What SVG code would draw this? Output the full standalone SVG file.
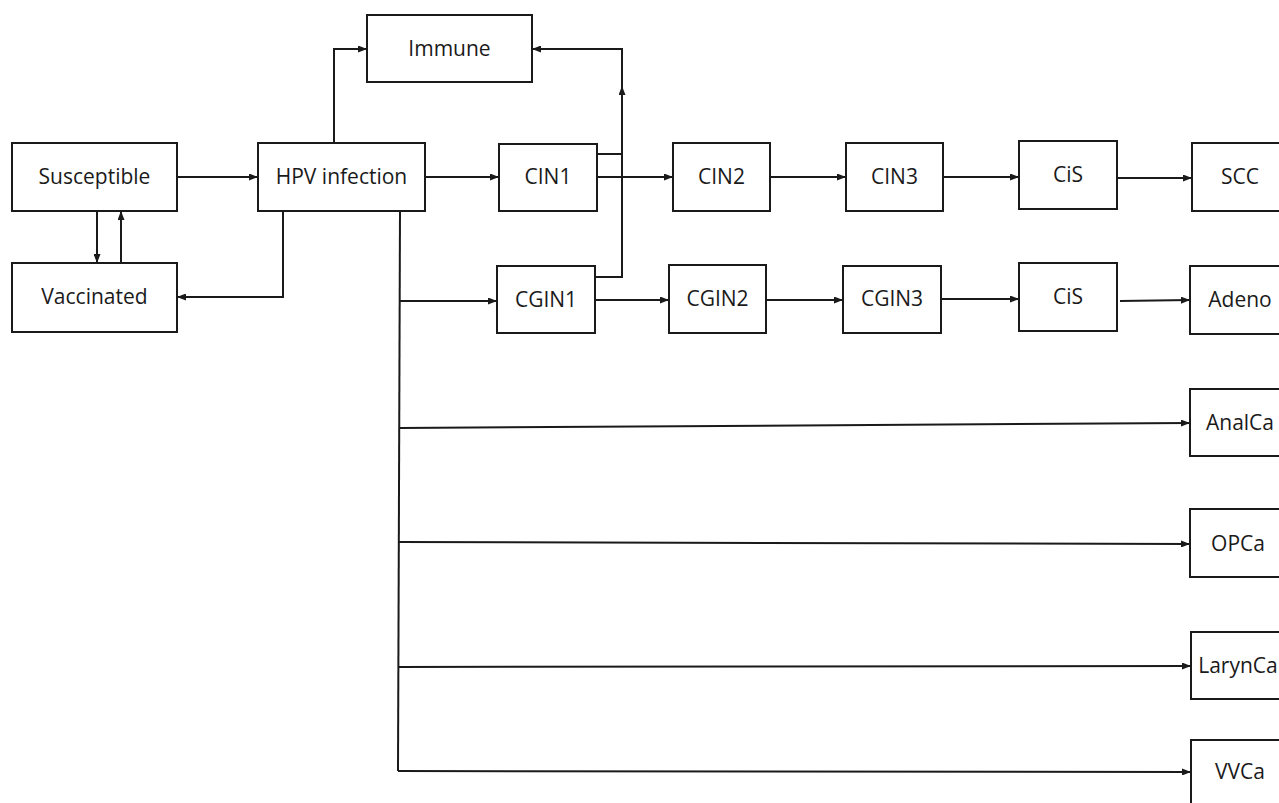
<svg xmlns="http://www.w3.org/2000/svg" width="1279" height="803" viewBox="0 0 1279 803">
  <style>
    .box { fill: #ffffff; stroke: #1a1a1a; stroke-width: 2; }
    .lbl { font-family: "Open Sans", "Liberation Sans", sans-serif; font-size: 21px; fill: #1a1a1a; text-anchor: middle; }
    .wire { fill: none; stroke: #1a1a1a; stroke-width: 2; }
    .arr { marker-end: url(#head); }
  </style>
  <defs>
    <marker id="head" markerUnits="userSpaceOnUse" markerWidth="9" markerHeight="7" refX="9" refY="3.5" orient="auto">
      <path d="M0,0 L9,3.5 L0,7 z" fill="#1a1a1a"/>
    </marker>
  </defs>
  <rect width="1279" height="803" fill="#ffffff"/>

  <g id="connectors">
    <path class="wire arr" d="M177,177 L258,177"/>
    <path class="wire arr" d="M97,211 L97,263"/>
    <path class="wire arr" d="M121,263 L121,211"/>
    <path class="wire arr" d="M283,211 L283,297 L177,297"/>
    <path class="wire arr" d="M334,143 L334,49 L367,49"/>
    <path class="wire arr" d="M425,177 L499,177"/>
    <path class="wire arr" d="M597,177 L673,177"/>
    <path class="wire" d="M597,154 L622,154"/>
    <path class="wire arr" d="M595,277 L622,277 L622,86"/>
    <path class="wire arr" d="M622,88 L622,49 L532,49"/>
    <path class="wire arr" d="M770,177 L846,177"/>
    <path class="wire arr" d="M943,177 L1019,177"/>
    <path class="wire arr" d="M1117,178 L1192,178"/>
    <path class="wire" d="M400,211 L398,771"/>
    <path class="wire arr" d="M400,301 L497,301"/>
    <path class="wire arr" d="M595,300 L669,300"/>
    <path class="wire arr" d="M766,300 L843,300"/>
    <path class="wire arr" d="M941,299 L1019,299"/>
    <path class="wire arr" d="M1120,301 L1190,300"/>
    <path class="wire arr" d="M400,428 L1190,423"/>
    <path class="wire arr" d="M399,542 L1190,544"/>
    <path class="wire arr" d="M398,667 L1191,666"/>
    <path class="wire arr" d="M398,771 L1191,772"/>
  </g>

  <g id="susceptible"><rect class="box" x="12" y="143" width="165" height="68"/><text class="lbl" x="94.5" y="184">Susceptible</text></g>
  <g id="hpv-infection"><rect class="box" x="258" y="143" width="167" height="68"/><text class="lbl" x="341.5" y="184">HPV infection</text></g>
  <g id="vaccinated"><rect class="box" x="12" y="263" width="165" height="69"/><text class="lbl" x="94.5" y="304">Vaccinated</text></g>
  <g id="immune"><rect class="box" x="367" y="15" width="165" height="67"/><text class="lbl" x="449.5" y="56">Immune</text></g>
  <g id="cin1"><rect class="box" x="499" y="144" width="98" height="67"/><text class="lbl" x="548" y="184">CIN1</text></g>
  <g id="cin2"><rect class="box" x="673" y="143" width="97" height="68"/><text class="lbl" x="721.5" y="184">CIN2</text></g>
  <g id="cin3"><rect class="box" x="846" y="143" width="97" height="68"/><text class="lbl" x="894.5" y="184">CIN3</text></g>
  <g id="cis-squamous"><rect class="box" x="1019" y="141" width="98" height="68"/><text class="lbl" x="1068" y="182">CiS</text></g>
  <g id="scc"><rect class="box" x="1192" y="143" width="100" height="68"/><text class="lbl" x="1240" y="184">SCC</text></g>
  <g id="cgin1"><rect class="box" x="497" y="266" width="98" height="67"/><text class="lbl" x="546" y="307">CGIN1</text></g>
  <g id="cgin2"><rect class="box" x="669" y="265" width="97" height="68"/><text class="lbl" x="717.5" y="306">CGIN2</text></g>
  <g id="cgin3"><rect class="box" x="843" y="266" width="98" height="67"/><text class="lbl" x="892" y="306">CGIN3</text></g>
  <g id="cis-glandular"><rect class="box" x="1019" y="263" width="98" height="68"/><text class="lbl" x="1068" y="304">CiS</text></g>
  <g id="adeno"><rect class="box" x="1190" y="266" width="100" height="68"/><text class="lbl" x="1240" y="307">Adeno</text></g>
  <g id="analca"><rect class="box" x="1190" y="389" width="100" height="67"/><text class="lbl" x="1240" y="430">AnalCa</text></g>
  <g id="opca"><rect class="box" x="1190" y="509" width="100" height="68"/><text class="lbl" x="1238" y="551">OPCa</text></g>
  <g id="larynca"><rect class="box" x="1191" y="632" width="100" height="67"/><text class="lbl" x="1238" y="673">LarynCa</text></g>
  <g id="vvca"><rect class="box" x="1191" y="740" width="100" height="68"/><text class="lbl" x="1240" y="779">VVCa</text></g>
</svg>
